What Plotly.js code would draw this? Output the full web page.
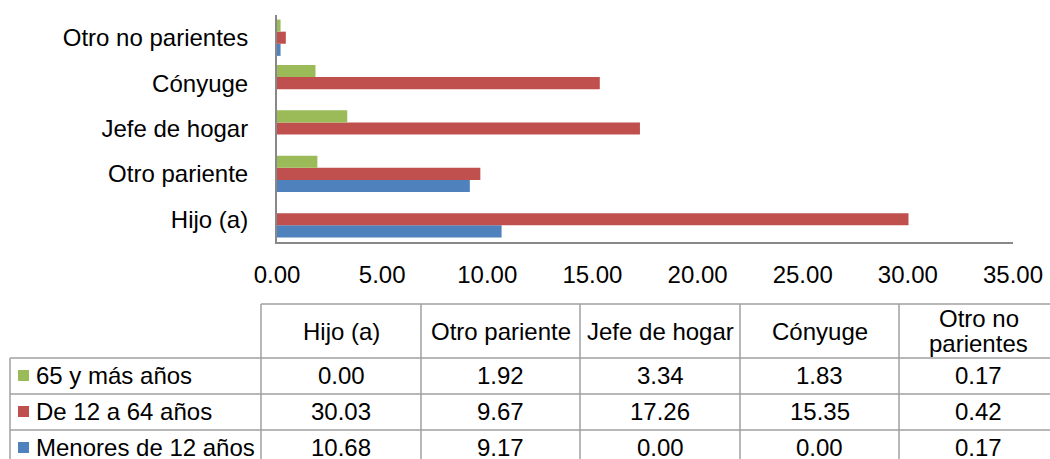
<!DOCTYPE html>
<html><head><meta charset="utf-8">
<script src="https://cdn.plot.ly/plotly-3.0.1.min.js"></script>
<style>html,body{margin:0;padding:0;background:#fff}#chart{width:1050px;height:459px}</style>
</head><body><div id="chart"></div><script>
// ---- data ----
const categories = ["Hijo (a)", "Otro pariente", "Jefe de hogar", "Cónyuge", "Otro no parientes"];
const headerLabels = ["Hijo (a)", "Otro pariente", "Jefe de hogar", "Cónyuge", "Otro no<br>parientes"];
const seriesNames = ["65 y más años", "De 12 a 64 años", "Menores de 12 años"];
const mayores65 = [0.00, 1.92, 3.34, 1.83, 0.17];
const de12a64 = [30.03, 9.67, 17.26, 15.35, 0.42];
const menores12 = [10.68, 9.17, 0.00, 0.00, 0.17];
const xTicks = [0, 5, 10, 15, 20, 25, 30, 35];

// ---- styles ----
const seriesColors = ["#9BBB59", "#C0504D", "#4F81BD"];
const FONT = "Arial, 'Liberation Sans', sans-serif";
const FS = 24;
const W = 1050, H = 459;
const M = {l: 277, r: 37, t: 15, b: 217};
const plotW = W - M.l - M.r, plotH = H - M.t - M.b;
const px = x => (x - M.l) / plotW;
const py = y => (H - M.b - y) / plotH;

const seriesValues = [mayores65, de12a64, menores12];

// bars: first trace drawn at bottom of each group
const traces = [2, 1, 0].map(i => ({
  type: 'bar', orientation: 'h', name: seriesNames[i],
  y: categories, x: seriesValues[i],
  marker: {color: seriesColors[i], line: {width: 0}},
  hoverinfo: 'x+y+name'
}));

// ---- data table below the chart ----
const colEdges = [261, 421, 580, 740, 899, 1058];
const rowEdges = [304, 358, 394, 430, 466];
const leftEdge = 10;
const lineStyle = {color: '#A0A0A0', width: 1.5};
const shapes = [];
const annotations = [];
// horizontal lines
shapes.push({type: 'line', xref: 'paper', yref: 'paper', x0: px(colEdges[0]), x1: px(colEdges[colEdges.length - 1]), y0: py(rowEdges[0]), y1: py(rowEdges[0]), line: lineStyle});
for (let r = 1; r < rowEdges.length; r++) {
  shapes.push({type: 'line', xref: 'paper', yref: 'paper', x0: px(leftEdge), x1: px(colEdges[colEdges.length - 1]), y0: py(rowEdges[r]), y1: py(rowEdges[r]), line: lineStyle});
}
// vertical lines
colEdges.forEach(cx => shapes.push({type: 'line', xref: 'paper', yref: 'paper', x0: px(cx), x1: px(cx), y0: py(rowEdges[0]), y1: py(rowEdges[rowEdges.length - 1]), line: lineStyle}));
shapes.push({type: 'line', xref: 'paper', yref: 'paper', x0: px(leftEdge), x1: px(leftEdge), y0: py(rowEdges[1]), y1: py(rowEdges[rowEdges.length - 1]), line: lineStyle});

// header texts
headerLabels.forEach((lab, c) => {
  const cx = (colEdges[c] + colEdges[c + 1]) / 2;
  const lines = lab.split('<br>');
  const cy = (rowEdges[0] + rowEdges[1]) / 2;
  const lh = 25;
  lines.forEach((ln, k) => {
    const yy = cy + (k - (lines.length - 1) / 2) * lh;
    annotations.push({xref: 'paper', yref: 'paper', x: px(cx), y: py(yy), text: ln, showarrow: false, xanchor: 'center', yanchor: 'middle', font: {family: FONT, size: FS, color: '#000'}});
  });
});
// rows
seriesNames.forEach((nm, r) => {
  const cy = (rowEdges[r + 1] + rowEdges[r + 2]) / 2 - 0.5;
  shapes.push({type: 'rect', xref: 'paper', yref: 'paper', x0: px(18), x1: px(29), y0: py(cy + 5.5), y1: py(cy - 5.5), fillcolor: seriesColors[r], line: {width: 0}});
  annotations.push({xref: 'paper', yref: 'paper', x: px(34), y: py(cy), text: nm, showarrow: false, xanchor: 'left', yanchor: 'middle', font: {family: FONT, size: FS, color: '#000'}});
  seriesValues[r].forEach((v, c) => {
    const cx = (colEdges[c] + colEdges[c + 1]) / 2;
    annotations.push({xref: 'paper', yref: 'paper', x: px(cx), y: py(cy), text: v.toFixed(2), showarrow: false, xanchor: 'center', yanchor: 'middle', font: {family: FONT, size: FS, color: '#000'}});
  });
});

const layout = {
  width: W, height: H,
  margin: M,
  paper_bgcolor: '#fff', plot_bgcolor: '#fff',
  showlegend: false,
  barmode: 'group', bargap: 0.2, bargroupgap: 0,
  font: {family: FONT, size: FS, color: '#000'},
  xaxis: {
    range: [0, 35], tickvals: xTicks, tickformat: '.2f',
    showgrid: false, zeroline: false, showline: true, linecolor: '#888888', linewidth: 2,
    ticks: '', ticklabelstandoff: 10,
    tickfont: {family: FONT, size: FS, color: '#000'}, fixedrange: true
  },
  yaxis: {
    type: 'category', categoryorder: 'array', categoryarray: categories,
    showgrid: false, zeroline: false, showline: true, linecolor: '#888888', linewidth: 2,
    ticks: '', ticklabelstandoff: 22,
    tickfont: {family: FONT, size: FS, color: '#000'}, fixedrange: true
  },
  shapes: shapes,
  annotations: annotations
};
Plotly.newPlot('chart', traces, layout, {displayModeBar: false, staticPlot: true});
</script></body></html>
